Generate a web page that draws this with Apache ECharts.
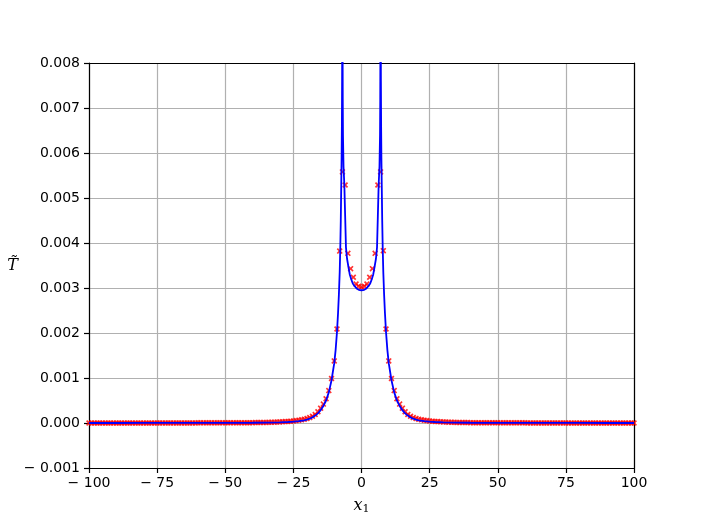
<!DOCTYPE html>
<html>
<head>
<meta charset="utf-8">
<script src="https://cdn.jsdelivr.net/npm/echarts@6/dist/echarts.min.js"></script>
<style>html,body{margin:0;padding:0;background:#fff}#c{width:705px;height:528px}</style>
</head>
<body>
<div id="c"></div>
<script>
// x positions of the numerical samples (red crosses)
var markerX = [
-100,-99,-98,-97,-96,-95,-94,-93,-92,-91,-90,-89,-88,-87,-86,-85,-84,-83,-82,-81,
-80,-79,-78,-77,-76,-75,-74,-73,-72,-71,-70,-69,-68,-67,-66,-65,-64,-63,-62,-61,
-60,-59,-58,-57,-56,-55,-54,-53,-52,-51,-50,-49,-48,-47,-46,-45,-44,-43,-42,-41,
-40,-39,-38,-37,-36,-35,-34,-33,-32,-31,-30,-29,-28,-27,-26,-25,-24,-23,-22,-21,
-20,-19,-18,-17,-16,-15,-14,-13,-12,-11,-10,-9,-8,-7,-6,-5,-4,-3,-2,-1,
0,
1,2,3,4,5,6,7,8,9,10,11,12,13,14,15,16,17,18,19,20,
21,22,23,24,25,26,27,28,29,30,31,32,33,34,35,36,37,38,39,40,
41,42,43,44,45,46,47,48,49,50,51,52,53,54,55,56,57,58,59,60,
61,62,63,64,65,66,67,68,69,70,71,72,73,74,75,76,77,78,79,80,
81,82,83,84,85,86,87,88,89,90,91,92,93,94,95,96,97,98,99,100
];
// numerical values (red crosses)
var markerY = [
0.000001,0.000001,0.000001,0.000001,0.000001,0.000001,0.000001,0.000001,0.000001,0.000001,
0.000001,0.000001,0.000001,0.000001,0.000001,0.000001,0.000001,0.000001,0.000001,0.000001,
0.000001,0.000001,0.000001,0.000001,0.000001,
0.000002,0.000002,0.000002,0.000002,0.000002,0.000002,0.000002,0.000002,0.000002,0.000002,
0.000002,0.000002,0.000002,0.000002,0.000002,
0.000003,0.000003,0.000003,0.000003,0.000003,0.000003,0.000003,0.000003,0.000003,0.000003,
0.000004,0.000004,0.000004,0.000004,0.000004,
0.000005,0.000005,0.000006,0.000006,0.000007,
0.000008,0.000009,0.000010,0.000011,0.000012,0.000013,0.000015,0.000017,0.000019,0.000021,
0.000024,0.000027,0.000031,0.000035,0.000040,0.000046,0.000053,0.000062,0.000072,0.000085,
0.000100,0.000120,0.000150,0.000190,0.000250,0.000330,0.000420,0.000540,0.000720,0.000990,
0.001380,0.002090,0.003820,0.005580,0.005290,0.003770,0.003430,0.003240,0.003090,0.003040,
0.003020,
0.003040,0.003090,0.003240,0.003430,0.003770,0.005290,0.005580,0.003830,0.002090,0.001380,
0.000990,0.000720,0.000540,0.000420,0.000330,0.000250,0.000190,0.000150,0.000120,0.000100,
0.000085,0.000072,0.000062,0.000053,0.000046,0.000040,0.000035,0.000031,0.000027,0.000024,
0.000021,0.000019,0.000017,0.000015,0.000013,0.000012,0.000011,0.000010,0.000009,0.000008,
0.000007,0.000006,0.000006,0.000005,0.000005,
0.000004,0.000004,0.000004,0.000004,0.000004,
0.000003,0.000003,0.000003,0.000003,0.000003,0.000003,0.000003,0.000003,0.000003,0.000003,
0.000002,0.000002,0.000002,0.000002,0.000002,0.000002,0.000002,0.000002,0.000002,0.000002,
0.000002,0.000002,0.000002,0.000002,0.000002,
0.000001,0.000001,0.000001,0.000001,0.000001,0.000001,0.000001,0.000001,0.000001,0.000001,
0.000001,0.000001,0.000001,0.000001,0.000001,0.000001,0.000001,0.000001,0.000001,0.000001,
0.000001,0.000001,0.000001,0.000001,0.000001
];
// analytical curve (blue line)
var lineX = [
-100,-90,-80,-70,-60,-50,-45,-40,-35,-30,-27,-25,-23,-21,-20,-19,-18,-17,-16,-15,
-14,-13,-12,-11,-10,-9.5,-9,-8.6,-8.3,-8,-7.8,-7.6,-7.45,-7.3,-7.2,-7.12,-7.06,-7.02,-7.0,
-6.98,-6.94,-6.88,-6.8,-6.6,-6.3,-6.0,-5.7,-5.3,-4.8,-4.3,-3.8,-3.2,-2.5,-1.8,-1,
0,
1,1.8,2.5,3.2,3.8,4.3,4.8,5.3,5.7,6.0,6.3,6.6,6.8,6.88,6.94,6.98,
7.0,7.02,7.06,7.12,7.2,7.3,7.45,7.6,7.8,8,8.3,8.6,9,9.5,10,11,12,13,14,
15,16,17,18,19,20,21,23,25,27,30,35,40,45,50,60,70,80,90,100
];
var lineY = [
0.0000003,0.0000004,0.0000006,0.000001,0.0000015,0.000003,0.000004,0.000006,0.00001,0.000016,
0.000022,0.00003,0.00004,0.00006,0.000075,0.000095,0.000125,0.000165,0.000215,0.000285,
0.00038,0.0005,0.00068,0.00095,0.00133,0.00162,0.00202,0.00245,0.00285,0.00335,0.00385,0.0045,0.0052,0.0059,0.0066,0.0076,0.0088,0.011,0.014,
0.011,0.0085,0.0072,0.0064,0.0057,0.0053,0.0046,0.0039,0.00365,0.00347,0.0033,0.0032,0.0031,0.00304,0.00299,0.00296,
0.00295,
0.00296,0.00299,0.00304,0.0031,0.0032,0.0033,0.00347,0.00365,0.0039,0.0046,0.0053,0.0057,0.0064,0.0072,0.0085,0.011,
0.014,0.011,0.0088,0.0076,0.0066,0.0059,0.0052,0.0045,0.00385,0.00335,0.00285,0.00245,0.00202,0.00162,0.00133,0.00095,0.00068,0.0005,0.00038,
0.000285,0.000215,0.000165,0.000125,0.000095,0.000075,0.00006,0.00004,0.00003,0.000022,0.000016,0.00001,0.000006,0.000004,0.000003,0.0000015,0.000001,0.0000006,0.0000004,0.0000003
];
var xTicks = [-100,-75,-50,-25,0,25,50,75,100];
var yTicks = [-0.001,0,0.001,0.002,0.003,0.004,0.005,0.006,0.007,0.008];

var lineData = lineX.map(function(x,i){return [x, lineY[i]];});
var markerData = markerX.map(function(x,i){return [x, markerY[i]];});

var FONT = 'DejaVu Sans';
var labelStyle = {color:'#000', fontFamily:FONT, fontSize:14};
function fmtX(v){ return v<0 ? '\u2212 ' + Math.abs(v) : String(v); }
function fmtY(v){ return v<0 ? '\u2212 ' + Math.abs(v).toFixed(3) : v.toFixed(3); }

var chart = echarts.init(document.getElementById('c'), null, {renderer:'canvas'});
chart.setOption({
  animation:false,
  backgroundColor:'#fff',
  grid:{left:89, right:71, top:63, bottom:60, containLabel:false},
  xAxis:[{
    type:'value', min:xTicks[0], max:xTicks[xTicks.length-1], interval:25,
    position:'bottom',
    axisLine:{show:true, onZero:false, lineStyle:{color:'#000', width:1.2}},
    axisTick:{show:true, length:5, lineStyle:{color:'#000', width:1.2}},
    axisLabel:Object.assign({margin:8, formatter:fmtX}, labelStyle),
    splitLine:{show:true, lineStyle:{color:'#b0b0b0', width:1.2}},
    name:'{i|x}{s|1}', nameLocation:'middle', nameGap:28,
    nameTextStyle:{rich:{
      i:{fontFamily:'DejaVu Serif', fontStyle:'italic', fontSize:16, color:'#000'},
      s:{fontFamily:'DejaVu Serif', fontSize:11, color:'#000', padding:[8,0,0,0]}
    }}
  },{
    type:'value', min:xTicks[0], max:xTicks[xTicks.length-1], interval:25,
    position:'top',
    axisLine:{show:true, onZero:false, lineStyle:{color:'#000', width:1.2}},
    axisTick:{show:false}, axisLabel:{show:false}, splitLine:{show:false}
  }],
  yAxis:[{
    type:'value', min:yTicks[0], max:yTicks[yTicks.length-1], interval:0.001,
    position:'left',
    axisLine:{show:true, onZero:false, lineStyle:{color:'#000', width:1.2}},
    axisTick:{show:true, length:5, lineStyle:{color:'#000', width:1.2}},
    axisLabel:Object.assign({margin:9, formatter:fmtY}, labelStyle),
    splitLine:{show:true, lineStyle:{color:'#b0b0b0', width:1.2}},
    name:'T\u0303', nameLocation:'middle', nameGap:70, nameRotate:0,
    nameTextStyle:{fontFamily:'DejaVu Serif', fontStyle:'italic', fontSize:16, color:'#000'}
  },{
    type:'value', min:yTicks[0], max:yTicks[yTicks.length-1], interval:0.001,
    position:'right',
    axisLine:{show:true, onZero:false, lineStyle:{color:'#000', width:1.2}},
    axisTick:{show:false}, axisLabel:{show:false}, splitLine:{show:false}
  }],
  series:[{
    type:'scatter', xAxisIndex:0, yAxisIndex:0,
    data:markerData,
    symbol:'path://M0,2 L2,0 L5,3 L8,0 L10,2 L7,5 L10,8 L8,10 L5,7 L2,10 L0,8 L3,5 Z',
    symbolSize:6,
    itemStyle:{color:'#ff0000'},
    z:2, silent:true
  },{
    type:'line', xAxisIndex:0, yAxisIndex:0,
    data:lineData, showSymbol:false, symbol:'none', smooth:false, clip:true,
    lineStyle:{color:'#0000ff', width:1.8},
    z:3, silent:true
  }]
});
</script>
</body>
</html>
